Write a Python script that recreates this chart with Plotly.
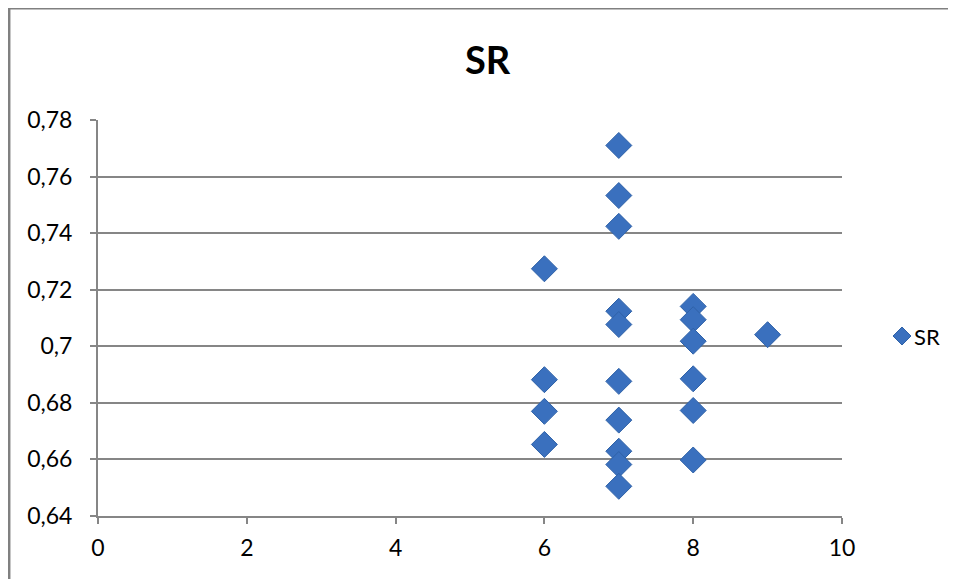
import plotly.graph_objects as go

series_name = "SR"
x_values = [6, 6, 6, 6,
            7, 7, 7, 7, 7, 7, 7, 7, 7, 7,
            8, 8, 8, 8, 8, 8,
            9]
y_values = [0.7274, 0.6882, 0.6770, 0.6653,
            0.7710, 0.7533, 0.7424, 0.7124, 0.7077, 0.6876, 0.6739, 0.6629, 0.6582, 0.6505,
            0.7141, 0.7094, 0.7018, 0.6885, 0.6773, 0.6598,
            0.7041]
y_ticks = [0.64, 0.66, 0.68, 0.70, 0.72, 0.74, 0.76, 0.78]
y_tick_labels = ["0,64", "0,66", "0,68", "0,7", "0,72", "0,74", "0,76", "0,78"]
x_ticks = [0, 2, 4, 6, 8, 10]
x_tick_labels = ["0", "2", "4", "6", "8", "10"]

OFF = 8  # page body margin
W, H = 956 - OFF, 579 - OFF
L, T = 98 - OFF, 120 - OFF
pw, ph = 744, 396
R, B = W - L - pw, H - T - ph

MARKER_COLOR = "#3A70BE"
MARKER_EDGE = "#2F62A8"

def px(xp):
    return (xp - OFF - L) / pw

def py(yp):
    return (T + ph - (yp - OFF)) / ph

fig = go.Figure()
fig.add_trace(go.Scatter(
    x=x_values, y=y_values, mode="markers", name=series_name,
    marker=dict(symbol="diamond", size=20, color=MARKER_COLOR,
                line=dict(color=MARKER_EDGE, width=1)),
    showlegend=False,
))

# legend (drawn manually so it does not push the plot margins)
lx, ly, hs = 902, 336, 9
legend_path = "M {a},{b} L {c},{d} L {e},{f} L {g},{h} Z".format(
    a=px(lx - hs), b=py(ly), c=px(lx), d=py(ly - hs),
    e=px(lx + hs), f=py(ly), g=px(lx), h=py(ly + hs))

fig.update_layout(
    width=W, height=H,
    margin=dict(l=L, r=R, t=T, b=B),
    paper_bgcolor="white", plot_bgcolor="white",
    font=dict(family="Lato, 'Open Sans', sans-serif", size=23, color="#000000"),
    showlegend=False,
    xaxis=dict(range=[0, 10], tickvals=x_ticks, ticktext=x_tick_labels,
               showgrid=False, zeroline=False, showline=True,
               linecolor="#868686", linewidth=2,
               ticks="outside", ticklen=6, tickcolor="#868686", tickwidth=1.5,
               ticklabelstandoff=4,
               tickfont=dict(size=23)),
    yaxis=dict(range=[0.64, 0.78], tickvals=y_ticks, ticktext=y_tick_labels,
               showgrid=True, gridcolor="#868686", gridwidth=1.5,
               zeroline=False, showline=True,
               linecolor="#868686", linewidth=2,
               ticks="outside", ticklen=6, tickcolor="#868686", tickwidth=1.5,
               ticklabelstandoff=13,
               tickfont=dict(size=23)),
    shapes=[
        dict(type="line", xref="paper", yref="paper",
             x0=px(9.2), x1=px(9.2), y0=py(7), y1=py(590),
             line=dict(color="#808080", width=2.5)),
        dict(type="line", xref="paper", yref="paper",
             x0=px(8), x1=px(960), y0=py(8.8), y1=py(8.8),
             line=dict(color="#808080", width=1.5)),
        dict(type="path", xref="paper", yref="paper", path=legend_path,
             fillcolor=MARKER_COLOR, line=dict(color=MARKER_EDGE, width=1)),
    ],
    annotations=[
        dict(text="<b>SR</b>", xref="paper", yref="paper",
             x=px(488), y=py(59), xanchor="center", yanchor="middle",
             showarrow=False, font=dict(size=38, color="#000000")),
        dict(text=series_name, xref="paper", yref="paper",
             x=px(912), y=py(336), xanchor="left", yanchor="middle",
             showarrow=False, font=dict(size=22, color="#000000")),
    ],
)

fig.write_html("out.html")
